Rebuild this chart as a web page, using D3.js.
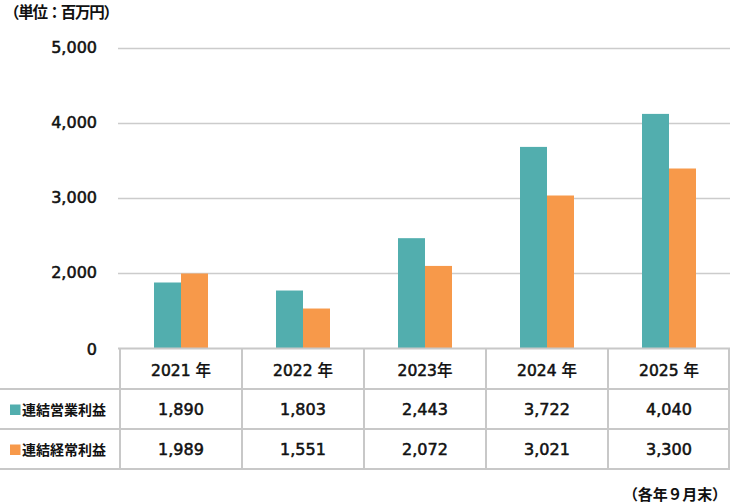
<!DOCTYPE html>
<html><head><meta charset="utf-8">
<script src="https://cdn.jsdelivr.net/npm/d3@7"></script>
<style>
html,body{margin:0;padding:0;background:#fff;}
svg{display:block;}
text{font-family:"Noto Sans CJK JP","Noto Sans",sans-serif;fill:#111;}
.num{font-family:"DejaVu Sans",sans-serif;}
</style></head><body>
<svg id="c" width="731" height="504"></svg>
<script>
const years = ["2021 年","2022 年","2023年","2024 年","2025 年"];
const seriesNames = ["連結営業利益","連結経常利益"];
// bar heights as drawn in the picture (百万円)
const operatingBars = [1880, 1773, 2471, 3688, 4128];
const ordinaryBars  = [2000, 1533, 2101, 3040, 3400];
// values printed in the table
const operatingTable = ["1,890","1,803","2,443","3,722","4,040"];
const ordinaryTable  = ["1,989","1,551","2,072","3,021","3,300"];
const yTicks = [1000, 2000, 3000, 4000, 5000];
const yTickLabels = ["0","2,000","3,000","4,000","5,000"];
const colors = ["#52aeae","#f7994a"];

const svg = d3.select("#c");
const x0 = 120, x1 = 730, yBase = 348.5, yTop = 48.5;
const x = d3.scaleBand().domain(years).range([x0, x1]).padding(0);
const y = d3.scaleLinear().domain([1000, 5000]).range([yBase, yTop]);
const barW = 27;

// title
svg.append("text").attr("x", 4).attr("y", 18).attr("font-size", 15.5).attr("font-weight", 700)
  .text("（単位：百万円）").attr("textLength", 115);

// gridlines
svg.append("g").selectAll("line").data(yTicks.slice(1)).join("line")
  .attr("x1", 118).attr("x2", x1).attr("y1", d => y(d)).attr("y2", d => y(d))
  .attr("stroke", "#cccccc").attr("stroke-width", 1.3);

// y labels
svg.append("g").selectAll("text").data(yTicks).join("text")
  .attr("class", "num")
  .attr("x", 97).attr("y", (d,i) => y(d) + (i === 0 ? 6 : 4.5))
  .attr("text-anchor", "end").attr("font-size", 16)
  .attr("stroke", "#111").attr("stroke-width", 0.55)
  .text((d,i) => yTickLabels[i]);

// bars
const series = [operatingBars, ordinaryBars];
series.forEach((vals, s) => {
  svg.append("g").selectAll("rect").data(vals).join("rect")
    .attr("x", (d,i) => x(years[i]) + x.bandwidth()/2 - barW + s*barW)
    .attr("width", barW)
    .attr("y", d => y(d)).attr("height", d => yBase - y(d))
    .attr("fill", colors[s]);
});

// table
const rowY = [348.5, 389, 429, 469];
const grid = svg.append("g").attr("stroke", "#c8c8c8").attr("stroke-width", 2);
grid.append("line").attr("x1", 118).attr("x2", x1).attr("y1", rowY[0]).attr("y2", rowY[0]);
rowY.slice(1).forEach(r => grid.append("line").attr("x1", 0).attr("x2", x1).attr("y1", r).attr("y2", r));
years.forEach(yr => grid.append("line").attr("x1", x(yr)).attr("x2", x(yr)).attr("y1", rowY[0]).attr("y2", rowY[3]));
grid.append("line").attr("x1", x1-1).attr("x2", x1-1).attr("y1", rowY[0]).attr("y2", rowY[3]);

// header
const hdr = svg.append("g").selectAll("text").data(years).join("text")
  .attr("x", d => x(d) + x.bandwidth()/2).attr("y", 375.5)
  .attr("text-anchor", "middle").attr("font-size", 15.5)
  .attr("stroke", "#111").attr("stroke-width", 0.55);
hdr.each(function(d){
  const m = d.match(/^(\d+)(\s?)(年)$/);
  const t = d3.select(this);
  t.append("tspan").attr("class","num").text(m[1] + m[2]);
  t.append("tspan").attr("font-weight", 500).attr("stroke-width", 0.2).text(m[3]);
});

// rows
const tables = [operatingTable, ordinaryTable];
const rowMid = [409, 449];
tables.forEach((vals, s) => {
  svg.append("g").selectAll("text").data(vals).join("text")
    .attr("class", "num")
    .attr("x", (d,i) => x(years[i]) + x.bandwidth()/2).attr("y", rowMid[s] + 6)
    .attr("text-anchor", "middle").attr("font-size", 16)
    .attr("stroke", "#111").attr("stroke-width", 0.55)
    .text(d => d);
  svg.append("rect").attr("x", 10).attr("y", rowMid[s] - 4.5).attr("width", 10.5).attr("height", 10.5).attr("fill", colors[s]);
  svg.append("text").attr("x", 22).attr("y", rowMid[s] + 5.5).attr("font-size", 14).attr("font-weight", 700)
    .text(seriesNames[s]);
});

// footer
svg.append("text").attr("x", 727).attr("y", 500).attr("text-anchor", "end")
  .attr("font-size", 15).attr("font-weight", 700).text("（各年９月末）").attr("textLength", 104);
</script>
</body></html>
